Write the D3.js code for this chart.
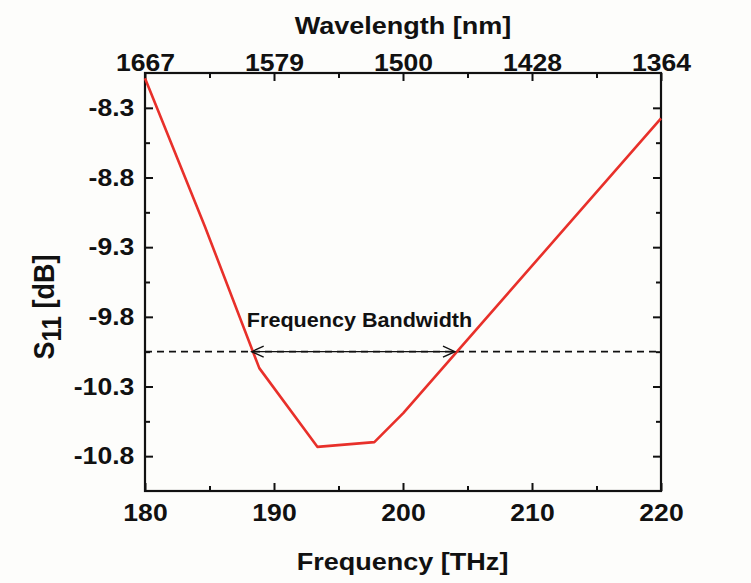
<!DOCTYPE html>
<html><head><meta charset="utf-8">
<script src="https://cdn.jsdelivr.net/npm/d3@7"></script>
<style>body{margin:0;background:#fdfdfb}svg{display:block}</style>
</head><body><svg id="c" width="751" height="583"></svg>
<script>
// ---- data ----
const freq = [180, 184.65, 188.86, 193.36, 197.78, 200.02, 220];
const s11  = [-8.088, -9.153, -10.168, -10.733, -10.699, -10.491, -8.375];
const xTicks = [180, 190, 200, 210, 220];
const xMinor = [185, 195, 205, 215];
const wavelengthLabels = ["1667", "1579", "1500", "1428", "1364"];
const yTicks = [-8.3, -8.8, -9.3, -9.8, -10.3, -10.8];
const yMinor = [-8.55, -9.05, -9.55, -10.05, -10.55];
const threshold = -10.05;
const bandwidth = [188.27, 204.03];

// ---- layout ----
const L = 145, R = 661, T = 73, B = 491;
const SX = 1.13;
const SXT = 1.09;
const ink = "#111";
const font = "'Liberation Sans', Arial, sans-serif";

const svg = d3.select("#c");
svg.append("rect").attr("width", 751).attr("height", 583).attr("fill", "#fdfdfb");

const x = d3.scaleLinear().domain([180, 220]).range([L, R]);
const y = d3.scaleLinear().domain([-11.05, -8.05]).range([B, T]);

function styleAxis(g, hideText) {
  g.select(".domain").remove();
  g.selectAll(".tick line").attr("stroke", ink).attr("stroke-width", 2);
  g.selectAll(".tick text")
    .attr("fill", ink)
    .style("font-family", font)
    .style("font-weight", "bold")
    .style("font-size", "23.5px")
    .attr("transform", `scale(${SX},1)`);
  if (hideText) g.selectAll(".tick text").remove();
}

// bottom
svg.append("g").attr("transform", `translate(0,${B})`)
  .call(d3.axisBottom(x).tickValues(xMinor).tickSize(-5).tickSizeOuter(0))
  .call(g => styleAxis(g, true));
svg.append("g").attr("transform", `translate(0,${B})`)
  .call(d3.axisBottom(x).tickValues(xTicks).tickSize(-8).tickSizeOuter(0).tickPadding(13).tickFormat(d3.format("d")))
  .call(g => styleAxis(g, false));
// top
svg.append("g").attr("transform", `translate(0,${T})`)
  .call(d3.axisTop(x).tickValues(xMinor).tickSize(-5).tickSizeOuter(0))
  .call(g => styleAxis(g, true));
svg.append("g").attr("transform", `translate(0,${T})`)
  .call(d3.axisTop(x).tickValues(xTicks).tickSize(-8).tickSizeOuter(0).tickPadding(2)
    .tickFormat((d, i) => wavelengthLabels[i]))
  .call(g => styleAxis(g, false));
// left
svg.append("g").attr("transform", `translate(${L},0)`)
  .call(d3.axisLeft(y).tickValues(yMinor).tickSize(-5).tickSizeOuter(0))
  .call(g => styleAxis(g, true));
svg.append("g").attr("transform", `translate(${L},0)`)
  .call(d3.axisLeft(y).tickValues(yTicks).tickSize(-8).tickSizeOuter(0).tickPadding(9.5)
    .tickFormat(d => d.toFixed(1)))
  .call(g => styleAxis(g, false));
// right
svg.append("g").attr("transform", `translate(${R},0)`)
  .call(d3.axisRight(y).tickValues(yMinor).tickSize(-5).tickSizeOuter(0))
  .call(g => styleAxis(g, true));
svg.append("g").attr("transform", `translate(${R},0)`)
  .call(d3.axisRight(y).tickValues(yTicks).tickSize(-8).tickSizeOuter(0))
  .call(g => styleAxis(g, true));

// frame
svg.append("rect").attr("x", L).attr("y", T).attr("width", R - L).attr("height", B - T)
  .attr("fill", "none").attr("stroke", ink).attr("stroke-width", 2.2);

// dashed threshold
svg.append("line").attr("x1", L).attr("x2", R).attr("y1", y(threshold)).attr("y2", y(threshold))
  .attr("stroke", ink).attr("stroke-width", 1.6).attr("stroke-dasharray", "7,5");

// data line
const pts = freq.map((f, i) => [f, s11[i]]);
svg.append("path").datum(pts)
  .attr("d", d3.line().x(d => x(d[0])).y(d => y(d[1])))
  .attr("fill", "none").attr("stroke", "#e8302a").attr("stroke-width", 2.6)
  .attr("stroke-linejoin", "round");

// bandwidth arrow
const ay = y(threshold), ax1 = x(bandwidth[0]), ax2 = x(bandwidth[1]);
const ag = svg.append("g").attr("stroke", ink).attr("stroke-width", 1.4).attr("fill", "none");
ag.append("line").attr("x1", ax1).attr("x2", ax2).attr("y1", ay).attr("y2", ay);
ag.append("path").attr("d", `M${ax1 + 12},${ay - 5.5}L${ax1},${ay}L${ax1 + 12},${ay + 5.5}`);
ag.append("path").attr("d", `M${ax2 - 12},${ay - 5.5}L${ax2},${ay}L${ax2 - 12},${ay + 5.5}`);

function boldText(txt, cx, cy, size) {
  return svg.append("text")
    .attr("transform", `translate(${cx},${cy}) scale(${SXT},1)`)
    .attr("text-anchor", "middle")
    .attr("fill", ink)
    .style("font-family", font).style("font-weight", "bold").style("font-size", size + "px")
    .text(txt);
}
boldText("Frequency Bandwidth", 359.5, 327, 19.8);
boldText("Frequency [THz]", 402.5, 570, 24.8);
boldText("Wavelength [nm]", 403, 34, 24.8);

// y title
const yt = svg.append("text")
  .attr("transform", `translate(54,307) rotate(-90) scale(1,1.12)`)
  .attr("text-anchor", "middle")
  .attr("fill", ink)
  .style("font-family", font).style("font-weight", "bold").style("font-size", "27px");
yt.append("tspan").text("S");
yt.append("tspan").attr("dy", 6).style("font-size", "24px").text("11");
yt.append("tspan").attr("dy", -6).text(" [dB]");
</script>
</body></html>
